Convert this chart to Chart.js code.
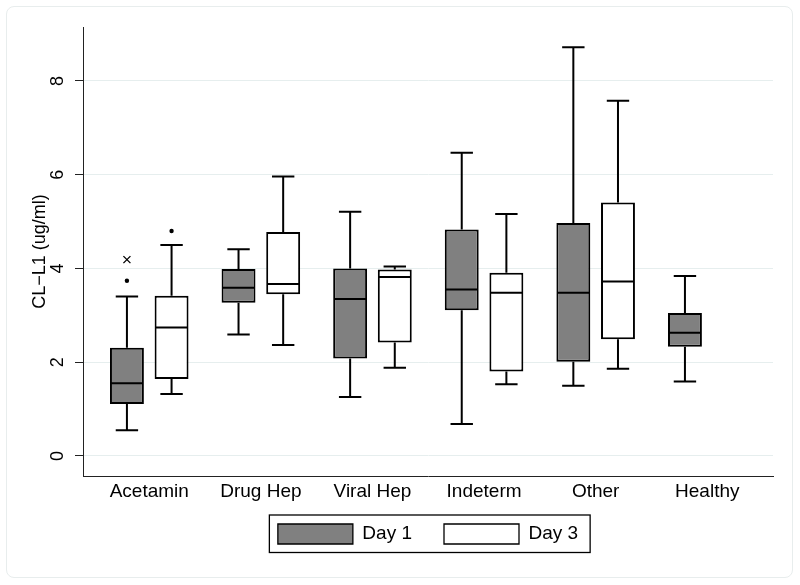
<!DOCTYPE html>
<html>
<head>
<meta charset="utf-8">
<script src="https://cdn.jsdelivr.net/npm/chart.js@4"></script>
<style>
	html, body { margin: 0; padding: 0; background: #fff; }
	#wrap { position: relative; width: 800px; height: 585px; }
	#frame { position: absolute; left: 6px; top: 6px; width: 785px; height: 570px; border: 1px solid #e8eded; border-radius: 8px; }
	#chart { position: absolute; left: 0; top: 0; }
</style>
</head>
<body>
<div id="wrap">
	<div id="frame"></div>
	<canvas id="chart" width="800" height="585"></canvas>
</div>
<script>
// Box plot data (CL-L1, ug/ml)
const categories = ['Acetamin', 'Drug Hep', 'Viral Hep', 'Indeterm', 'Other', 'Healthy'];
const seriesNames = ['Day 1', 'Day 3'];

const day1Low    = [0.55, 2.59, 1.26, 0.68, 1.50, 1.59];
const day1Q1     = [1.11, 3.27, 2.08, 3.11, 2.01, 2.33];
const day1Median = [1.55, 3.59, 3.35, 3.55, 3.48, 2.63];
const day1Q3     = [2.31, 3.99, 4.00, 4.83, 4.97, 3.05];
const day1High   = [3.40, 4.41, 5.21, 6.47, 8.72, 3.84];

const day3Low    = [1.32, 2.37, 1.88, 1.53, 1.86, null];
const day3Q1     = [1.64, 3.45, 2.42, 1.80, 2.49, null];
const day3Median = [2.74, 3.67, 3.82, 3.48, 3.72, null];
const day3Q3     = [3.42, 4.78, 3.98, 3.91, 5.41, null];
const day3High   = [4.50, 5.96, 4.04, 5.16, 7.58, null];

// outside values (dots) and the one far value (x marker)
const day1Outliers = [[3.74], [], [], [], [], []];
const day1Far      = [[4.19], [], [], [], [], []];
const day3Outliers = [[4.80], [], [], [], [], []];
const day3Far      = [[], [], [], [], [], []];

const yTicks = [0, 2, 4, 6, 8];

const FONT = "'Liberation Sans', Arial, Helvetica, sans-serif";

function boxData(q1, q3){
	return categories.map((c, i) => ({ x: i, y: q1[i] == null ? null : [q1[i], q3[i]] }));
}

const stats = [
	{ low: day1Low, med: day1Median, high: day1High, dots: day1Outliers, far: day1Far },
	{ low: day3Low, med: day3Median, high: day3High, dots: day3Outliers, far: day3Far }
];

// whiskers, caps, medians and outside values, placed on the bars the library laid out
const boxPlotPlugin = {
	id: 'boxPlot',
	afterDatasetsDraw(chart){
		const ctx = chart.ctx;
		const y = chart.scales.y;
		ctx.save();
		ctx.strokeStyle = '#000';
		ctx.fillStyle = '#000';
		stats.forEach((s, d) => {
			const meta = chart.getDatasetMeta(d);
			meta.data.forEach((bar, i) => {
				if (s.med[i] == null) return;
				const raw = chart.data.datasets[d].data[i].y;
				const x = bar.x, w = bar.width, cap = w * 0.33;
				const yQ1 = y.getPixelForValue(raw[0]), yQ3 = y.getPixelForValue(raw[1]);
				const yLo = y.getPixelForValue(s.low[i]), yHi = y.getPixelForValue(s.high[i]);
				ctx.lineWidth = 2;
				ctx.beginPath();
				ctx.moveTo(x, yQ3); ctx.lineTo(x, yHi);
				ctx.moveTo(x - cap, yHi); ctx.lineTo(x + cap, yHi);
				ctx.moveTo(x, yQ1); ctx.lineTo(x, yLo);
				ctx.moveTo(x - cap, yLo); ctx.lineTo(x + cap, yLo);
				const yMed = y.getPixelForValue(s.med[i]);
				ctx.moveTo(x - w / 2 + 1, yMed); ctx.lineTo(x + w / 2 - 1, yMed);
				ctx.stroke();
				s.dots[i].forEach(v => {
					ctx.beginPath();
					ctx.arc(x, y.getPixelForValue(v), 2.2, 0, Math.PI * 2);
					ctx.fill();
				});
				s.far[i].forEach(v => {
					const py = y.getPixelForValue(v);
					ctx.lineWidth = 1.3;
					ctx.beginPath();
					ctx.moveTo(x - 3.5, py - 3.5); ctx.lineTo(x + 3.5, py + 3.5);
					ctx.moveTo(x + 3.5, py - 3.5); ctx.lineTo(x - 3.5, py + 3.5);
					ctx.stroke();
				});
			});
		});
		ctx.restore();
	}
};

// frame round the legend
const legendFramePlugin = {
	id: 'legendFrame',
	afterDraw(chart){
		const hb = chart.legend && chart.legend.legendHitBoxes;
		if (!hb || !hb.length) return;
		const last = hb[hb.length - 1];
		const ctx = chart.ctx;
		ctx.save();
		ctx.strokeStyle = '#000';
		ctx.lineWidth = 1.3;
		const left = hb[0].left - 8.5, top = hb[0].top - 9;
		const right = last.left + last.width + 12, bottom = hb[0].top + 20 + 8.5;
		ctx.strokeRect(left, top, right - left, bottom - top);
		ctx.restore();
	}
};

const barCommon = {
	borderColor: '#000',
	borderWidth: 2,
	borderSkipped: false,
	barPercentage: 0.76,
	categoryPercentage: 0.8
};

new Chart(document.getElementById('chart').getContext('2d'), {
	type: 'bar',
	data: {
		datasets: [
			Object.assign({ label: seriesNames[0], data: boxData(day1Q1, day1Q3), backgroundColor: '#808080' }, barCommon),
			Object.assign({ label: seriesNames[1], data: boxData(day3Q1, day3Q3), backgroundColor: '#ffffff' }, barCommon)
		]
	},
	options: {
		responsive: false,
		animation: false,
		events: [],
		layout: { padding: { left: 0, right: 27, top: 27, bottom: 31 } },
		scales: {
			x: {
				type: 'linear',
				offset: false,
				min: -0.5936,
				max: 5.589,
				grid: { display: false, drawTicks: false, offset: false },
				border: { display: true, color: '#222', width: 1 },
				ticks: {
					stepSize: 1,
					includeBounds: false,
					autoSkip: false,
					maxRotation: 0,
					padding: 4,
					color: '#000',
					font: { family: FONT, size: 19 },
					callback: v => categories[v] !== undefined ? categories[v] : ''
				},
				afterFit: s => { s.height = 26; }
			},
			y: {
				min: -0.4267,
				max: 9.152,
				grid: { color: '#e6eeee', lineWidth: 1, tickColor: '#222', tickLength: 8 },
				border: { display: true, color: '#222', width: 1 },
				afterBuildTicks: s => { s.ticks = yTicks.map(v => ({ value: v })); },
				ticks: {
					minRotation: 90,
					maxRotation: 90,
					crossAlign: 'center',
					padding: 12,
					color: '#000',
					font: { family: FONT, size: 18 }
				},
				title: {
					display: true,
					text: 'CL\u2212L1 (ug/ml)',
					color: '#000',
					font: { family: FONT, size: 18 },
					padding: { top: 29, bottom: 0 }
				},
				afterFit: s => { s.width = 83; }
			}
		},
		plugins: {
			tooltip: { enabled: false },
			legend: {
				position: 'bottom',
				fullSize: false,
				// empty title with negative padding pulls the items up closer to the axis labels
				title: { display: true, text: '', font: { size: 0 }, padding: { top: -10, bottom: 0 } },
				labels: {
					boxWidth: 75,
					boxHeight: 20,
					padding: 32,
					color: '#000',
					font: { family: FONT, size: 19 },
					generateLabels: chart => Chart.defaults.plugins.legend.labels.generateLabels(chart).map(l => Object.assign(l, { lineWidth: 1.3 }))
				}
			}
		}
	},
	plugins: [boxPlotPlugin, legendFramePlugin]
});
</script>
</body>
</html>
